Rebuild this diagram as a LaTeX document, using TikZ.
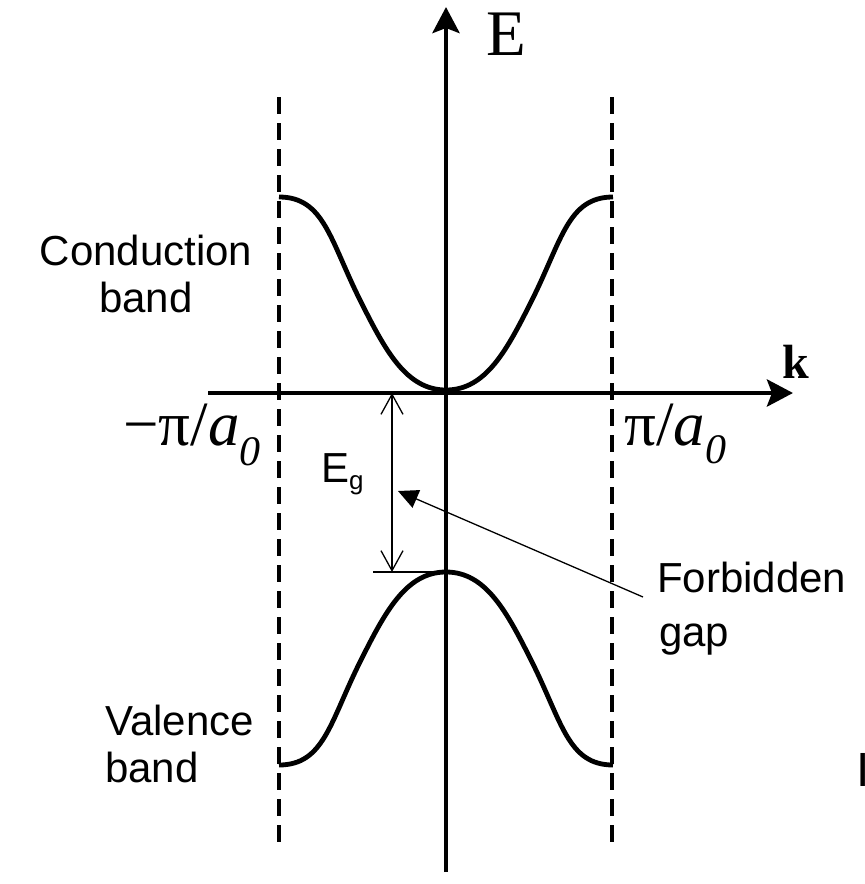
\documentclass[tikz,border=0pt]{standalone}
\usepackage{fontspec}
\setmainfont{Liberation Sans}
\newfontfamily\tms{Liberation Serif}
\usetikzlibrary{arrows.meta}
\begin{document}
\begin{tikzpicture}[x=1pt,y=-1pt,
  axisline/.style={line width=4.8pt,-{Stealth[length=26pt,width=27pt,inset=5pt]}},
  bandline/.style={line width=4.8pt,line join=round},
  zoneline/.style={line width=4.3pt,dash pattern=on 17pt off 9pt},
  thinline/.style={line width=1.3pt},
  lbl/.style={inner sep=0pt,font=\fontsize{42}{48}\selectfont},
  mathlbl/.style={inner sep=0pt,font=\tms\fontsize{63}{70}\selectfont}]
\useasboundingbox (0,0) rectangle (865,884);
% axes
\coordinate (ybot) at (446,872);
\coordinate (ytop) at (446,7);
\coordinate (xleft) at (208,393);
\coordinate (xright) at (793,393);
\draw[axisline] (ybot) -- (ytop);
\draw[axisline] (xleft) -- (xright);
\node[inner sep=0pt,anchor=base west,font=\tms\fontsize{65}{70}\selectfont] (elabel) at (486,55) {E};
\node[inner sep=0pt,anchor=base east,font=\tms\bfseries\fontsize{48}{52}\selectfont] (klabel) at (809,378) {k};
% zone boundaries
\coordinate (zlt) at (279,97);
\coordinate (zlb) at (279,842);
\coordinate (zrt) at (612,97);
\coordinate (zrb) at (612,842);
\draw[zoneline] (zlt) -- (zlb);
\draw[zoneline] (zrt) -- (zrb);
% bands
\draw[bandline] (279,197) .. controls (324,197) and (330,240) .. (360,300)
  .. controls (385,350) and (406,390) .. (446,390)
  .. controls (486,390) and (507,350) .. (532,300)
  .. controls (562,240) and (568,197) .. (613,197);
\draw[bandline] (279,765) .. controls (324,765) and (330,722) .. (360,662)
  .. controls (385,612) and (406,572) .. (446,572)
  .. controls (486,572) and (507,612) .. (532,662)
  .. controls (562,722) and (568,765) .. (613,765);
% k labels
\node[mathlbl,anchor=base west] (kmin) at (123,445) {−π/\textit{a}\raisebox{-20pt}{\fontsize{42}{42}\selectfont\textit{0}}};
\node[mathlbl,anchor=base west] (kmax) at (624,445) {π/\textit{a}\raisebox{-18pt}{\fontsize{42}{42}\selectfont\textit{0}}};
% gap arrow
\coordinate (gtop) at (392,393);
\coordinate (gbot) at (392,572);
\coordinate (ttl) at (373,392);
\coordinate (ttr) at (403,392);
\coordinate (tbl) at (373,572);
\coordinate (tbr) at (446,572);
\draw[thinline] (ttl) -- (ttr);
\draw[thinline] (tbl) -- (tbr);
\draw[thinline,{Straight Barb[length=20pt,width=22pt]}-{Straight Barb[length=20pt,width=22pt]}] (gtop) -- (gbot);
\node[inner sep=0pt,anchor=base west,font=\fontsize{42}{48}\selectfont] (eg) at (321,482) {E\raisebox{-7pt}{\fontsize{26}{26}\selectfont g}};
% forbidden gap pointer
\node[lbl,anchor=base west] (forb) at (657,592) {Forbidden};
\node[lbl,anchor=base west] (gapw) at (659,646) {gap};
\coordinate (ptail) at (643,597);
\coordinate (phead) at (398,491);
\draw[thinline,-{Triangle[length=20pt,width=19pt]}] (ptail) -- (phead);
% band names
\node[lbl,anchor=base] (cond) at (146,265) {Conduction};
\node[lbl,anchor=base] (condb) at (146,312) {band};
\node[lbl,anchor=base west] (val) at (105,735) {Valence};
\node[lbl,anchor=base west] (valb) at (105,782) {band};
% cut-off caption letter
\node[inner sep=0pt,anchor=base west,font=\fontsize{48}{48}\selectfont] (cut) at (856,786) {I};
\end{tikzpicture}
\end{document}
